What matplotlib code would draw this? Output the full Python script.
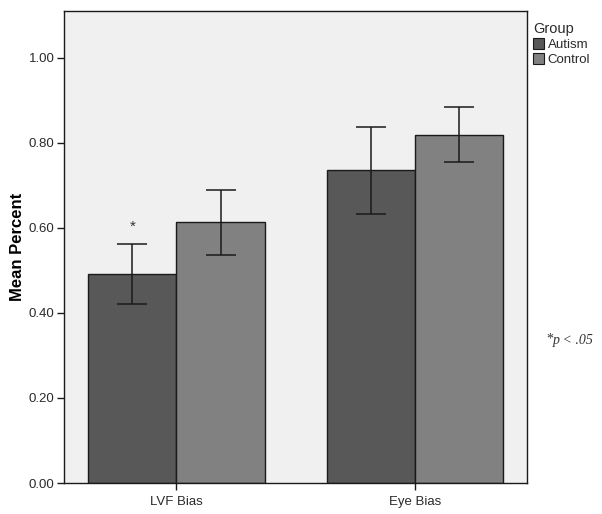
import matplotlib
matplotlib.use("Agg")
import matplotlib.pyplot as plt
import numpy as np
from matplotlib.patches import Patch

categories = ["LVF Bias", "Eye Bias"]
groups = ["Autism", "Control"]
means_autism = [0.491, 0.736]
means_control = [0.613, 0.819]
err_low_autism = [0.421, 0.632]
err_high_autism = [0.562, 0.838]
err_low_control = [0.537, 0.755]
err_high_control = [0.689, 0.885]
yticks = [0.0, 0.2, 0.4, 0.6, 0.8, 1.0]
ytick_labels = ["0.00", "0.20", "0.40", "0.60", "0.80", "1.00"]

plt.rcParams["font.family"] = ["Liberation Sans", "DejaVu Sans"]

fig = plt.figure(figsize=(6.02, 5.14), dpi=100)
ax = fig.add_axes([0.107, 0.0603, 0.768, 0.9183])
ax.set_facecolor("#f0f0f0")

x = np.arange(len(categories))
w = 0.37
colors = ["#585858", "#818181"]
for i, (m, lo, hi) in enumerate([(means_autism, err_low_autism, err_high_autism),
                                  (means_control, err_low_control, err_high_control)]):
    xs = x + (i - 0.5) * w
    ax.bar(xs, m, width=w, color=colors[i], edgecolor="#1a1a1a", linewidth=1.0, zorder=2)
    m = np.array(m); lo = np.array(lo); hi = np.array(hi)
    ax.errorbar(xs, m, yerr=[m - lo, hi - m], fmt="none", ecolor="#1a1a1a",
                elinewidth=1.1, capsize=11, capthick=1.1, zorder=3)

ax.text(x[0] - w / 2, err_high_autism[0] + 0.025, "*", ha="center", va="bottom",
        fontsize=11, color="#333333")

ax.set_xlim(-0.47, 1.47)
ax.set_ylim(0, 1.11)
ax.set_xticks(x)
ax.set_xticklabels(categories, fontsize=9.5, color="#2a2a2a")
ax.set_yticks(yticks)
ax.set_yticklabels(ytick_labels, fontsize=9.5, color="#2a2a2a")
ax.tick_params(axis="both", direction="out", length=5, width=1, color="#1a1a1a", pad=2)
ax.tick_params(axis="x", pad=4)
ax.set_ylabel("Mean Percent", fontsize=12, fontweight="bold", labelpad=3)
for s in ax.spines.values():
    s.set_color("#1a1a1a")
    s.set_linewidth(1.0)

handles = [Patch(facecolor=colors[0], edgecolor="#1a1a1a", linewidth=0.8),
           Patch(facecolor=colors[1], edgecolor="#1a1a1a", linewidth=0.8)]
leg = ax.legend(handles, groups, title="Group", loc="upper left",
                bbox_to_anchor=(1.0, 0.99), frameon=False, fontsize=9.5,
                title_fontsize=10.5, handlelength=0.8, handleheight=0.9,
                handletextpad=0.3, labelspacing=0.15, borderaxespad=0.1,
                alignment="left")
leg.get_title().set_color("#2a2a2a")
for t in leg.get_texts():
    t.set_color("#2a2a2a")

fig.text(0.907, 0.340, "*", fontsize=10, family="Liberation Serif", color="#333333",
         ha="left", va="center")
fig.text(0.919, 0.338, "p < .05", fontsize=10, family="Liberation Serif",
         style="italic", color="#333333", ha="left", va="center")

fig.savefig("out.png", dpi=100)
